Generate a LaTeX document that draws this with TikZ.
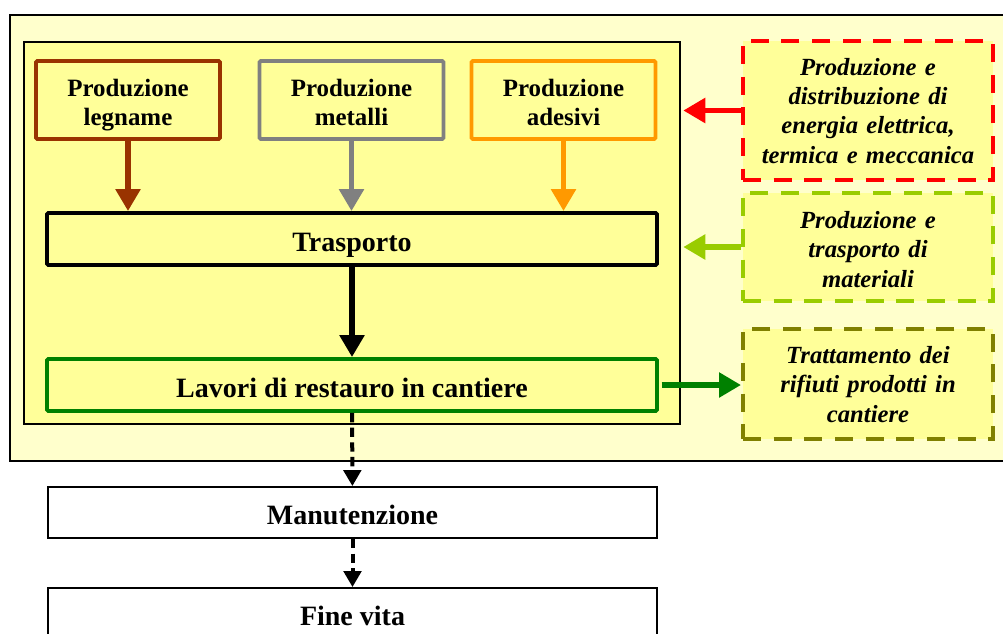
\documentclass[tikz,border=0pt]{standalone}
\usepackage{fontspec}
\setmainfont{Liberation Serif}
\usetikzlibrary{arrows.meta}
\definecolor{giallochiaro}{HTML}{FFFFCC}
\definecolor{giallo}{HTML}{FFFF99}
\definecolor{marrone}{HTML}{993300}
\definecolor{grigio}{HTML}{808080}
\definecolor{arancio}{HTML}{FF9900}
\definecolor{verde}{HTML}{008000}
\definecolor{lime}{HTML}{99CC00}
\definecolor{oliva}{HTML}{808000}
\tikzstyle{contenitore} = [rectangle, draw=black, line width=1.5pt, fill=giallochiaro]
\tikzstyle{cantiere} = [rectangle, draw=black, line width=0.9pt, fill=giallo]
\tikzstyle{produzione} = [rectangle, rounded corners=1pt, minimum width=138pt, minimum height=58.5pt, text width=130pt, align=center, line width=2.9pt, fill=giallo, text height=14pt, text depth=19pt, font=\fontsize{18.7}{21.75}\selectfont\bfseries]
\tikzstyle{processo} = [rectangle, rounded corners=1pt, minimum width=457.5pt, minimum height=39pt, align=center, line width=2.9pt, fill=giallo, text height=19pt, text depth=1pt, font=\fontsize{21}{25}\selectfont\bfseries]
\tikzstyle{uso} = [rectangle, minimum width=457pt, minimum height=38.25pt, align=center, draw=black, line width=1.4pt, fill=white, text height=18.5pt, text depth=1pt, font=\fontsize{21}{25}\selectfont\bfseries]
\tikzstyle{esterno} = [rectangle, minimum width=187.5pt, text width=180pt, align=center, line width=3pt, dash pattern=on 13.5pt off 9.5pt, fill=giallo, text height=14pt, font=\fontsize{18.5}{22}\selectfont\bfseries\itshape]
\tikzstyle{freccia} = [line width=4.2pt, -{Triangle[width=18pt,length=16.5pt]}]
\tikzstyle{tratteggio} = [line width=3pt, dash pattern=on 7pt off 4pt, -{Triangle[width=13pt,length=12pt]}]

\begin{document}
\begin{tikzpicture}[x=0.75pt, y=-0.75pt]
\useasboundingbox (0,0) rectangle (1003,633);
% riquadri di fondo
\node (sistema) [contenitore, minimum width=750pt, minimum height=334.5pt] at (510,238) {};
\node (fase) [cantiere, minimum width=492pt, minimum height=286.5pt] at (352,233) {};

% produzione dei materiali
\node (legname) [produzione, draw=marrone] at (128,100) {Produzione\\legname};
\node (metalli) [produzione, draw=grigio] at (351.5,100) {Produzione\\metalli};
\node (adesivi) [produzione, draw=arancio] at (563.5,100) {Produzione\\adesivi};

\node (trasporto) [processo, draw=black] at (352,239) {Trasporto};
\node (lavori) [processo, draw=verde] at (352,385) {Lavori di restauro in cantiere};

\node (manutenzione) [uso] at (352.5,512.5) {Manutenzione};
\node (finevita) [uso] at (352.5,613.5) {Fine vita};

% processi esterni
\node (energia) [esterno, draw=red, minimum height=104.25pt, text depth=67pt] at (868,110.5) {Produzione e\\distribuzione di\\energia elettrica,\\termica e meccanica};
\node (materiali) [esterno, draw=lime, minimum height=81pt, text depth=42pt] at (868,247) {Produzione e\\trasporto di\\materiali};
\node (rifiuti) [esterno, draw=oliva, minimum height=82.5pt, text depth=45pt] at (868,384) {Trattamento dei\\rifiuti prodotti in\\cantiere};

\draw [freccia, marrone] (legname.south) -- (legname.south |- trasporto.north);
\draw [freccia, grigio] (metalli.south) -- (metalli.south |- trasporto.north);
\draw [freccia, arancio] (adesivi.south) -- (adesivi.south |- trasporto.north);
\draw [freccia, black] (trasporto) -- (lavori);
\draw [tratteggio] (lavori) -- (manutenzione);
\draw [tratteggio] (manutenzione) -- (finevita);
\draw [freccia, red] (energia.west) -- ([xshift=2pt]energia.west -| fase.east);
\draw [freccia, lime] (materiali.west) -- ([xshift=2pt]materiali.west -| fase.east);
\draw [freccia, verde, shorten <=2pt] (lavori.east) -- (lavori.east -| rifiuti.west);
\end{tikzpicture}
\end{document}
